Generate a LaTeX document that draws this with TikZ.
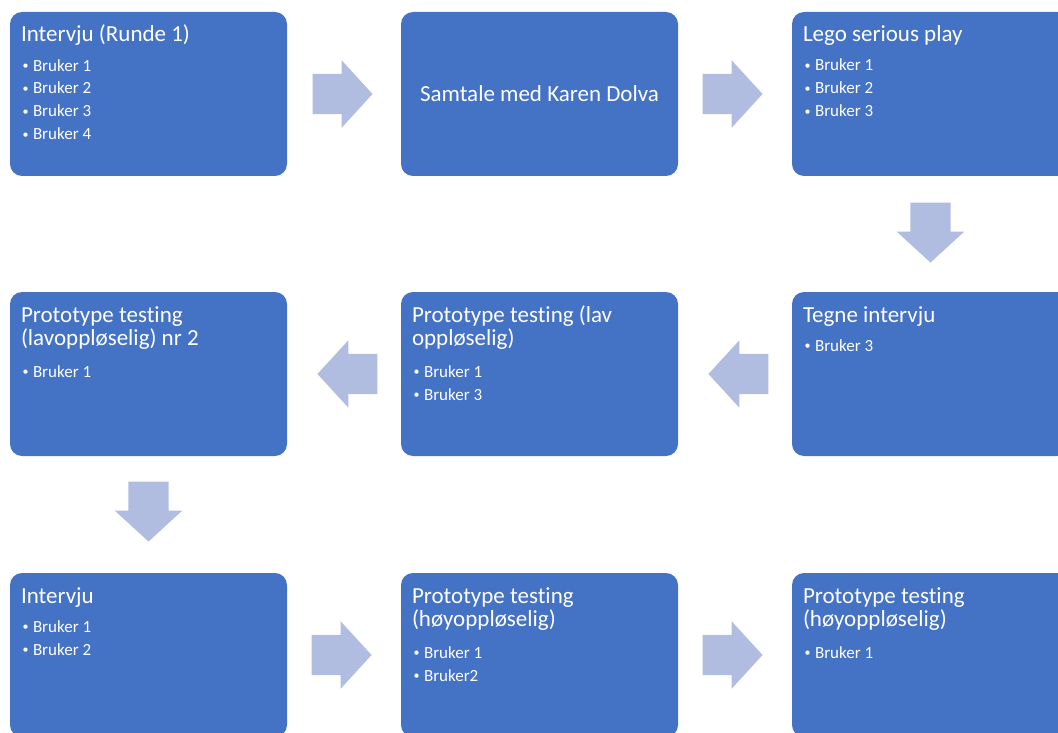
\documentclass[tikz,border=0pt]{standalone}
\usepackage{fontspec}
\setmainfont{Carlito}[Ligatures=NoCommon]
\usetikzlibrary{shapes.arrows,calc}
\definecolor{boxblue}{HTML}{4472C4}
\definecolor{arrowblue}{HTML}{B0BCE0}
\newcommand{\boxtitle}[1]{{\fontsize{23}{24}\selectfont\rule{0pt}{18pt}#1}}
\newcommand{\bulletitem}{\hspace*{1.5pt}\makebox[10.5pt][l]{\raisebox{1.2pt}{\fontsize{12}{12}\selectfont •}}}

\begin{document}
\begin{tikzpicture}[x=1pt, y=-1pt,
  stepbox/.style={fill=boxblue, rounded corners=12pt, minimum width=277pt,
                  minimum height=164pt, inner sep=0pt},
  boxtext/.style={anchor=north west, align=left, text=white, inner sep=0pt,
                  font=\fontsize{17}{23}\selectfont},
  flow/.style={single arrow, fill=arrowblue, minimum height=60pt, anchor=tip,
               inner xsep=0pt, inner ysep=20pt, single arrow head extend=13.5pt,
               single arrow head indent=0pt, single arrow tip angle=95},
]
\useasboundingbox (0,0) rectangle (1058,733);
\clip (0,0) rectangle (1058,733);

% ---- Row 1 ----
\node[stepbox] (r1a) at (148.5,94) {};
\node[stepbox] (r1b) at (539.5,94) {};
\node[stepbox] (r1c) at (930.5,94) {};

\node[boxtext] (r1aText) at ([xshift=11pt,yshift=-12pt]r1a.north west)
  {\boxtitle{Intervju (Runde 1)}\\[6pt]
   \bulletitem Bruker 1\\ \bulletitem Bruker 2\\ \bulletitem Bruker 3\\ \bulletitem Bruker 4};
\node[text=white, font=\fontsize{23}{24}\selectfont] (r1bText) at (r1b.center)
  {Samtale med Karen Dolva};
\node[boxtext] (r1cText) at ([xshift=11pt,yshift=-12pt]r1c.north west)
  {\boxtitle{Lego serious play}\\[6pt]
   \bulletitem Bruker 1\\ \bulletitem Bruker 2\\ \bulletitem Bruker 3};

% ---- Row 2 ----
\node[stepbox] (r2a) at (148.5,374) {};
\node[stepbox] (r2b) at (539.5,374) {};
\node[stepbox] (r2c) at (930.5,374) {};

\node[boxtext] (r2aText) at ([xshift=11pt,yshift=-12pt]r2a.north west)
  {\boxtitle{Prototype testing}\\ \boxtitle{(lavoppløselig) nr 2}\\[9pt]
   \bulletitem Bruker 1};
\node[boxtext] (r2bText) at ([xshift=11pt,yshift=-12pt]r2b.north west)
  {\boxtitle{Prototype testing (lav}\\ \boxtitle{oppløselig)}\\[9pt]
   \bulletitem Bruker 1\\ \bulletitem Bruker 3};
\node[boxtext] (r2cText) at ([xshift=11pt,yshift=-12pt]r2c.north west)
  {\boxtitle{Tegne intervju}\\[6pt]
   \bulletitem Bruker 3};

% ---- Row 3 ----
\node[stepbox] (r3a) at (148.5,655) {};
\node[stepbox] (r3b) at (539.5,655) {};
\node[stepbox] (r3c) at (930.5,655) {};

\node[boxtext] (r3aText) at ([xshift=11pt,yshift=-12pt]r3a.north west)
  {\boxtitle{Intervju}\\[6pt]
   \bulletitem Bruker 1\\ \bulletitem Bruker 2};
\node[boxtext] (r3bText) at ([xshift=11pt,yshift=-12pt]r3b.north west)
  {\boxtitle{Prototype testing}\\ \boxtitle{(høyoppløselig)}\\[9pt]
   \bulletitem Bruker 1\\ \bulletitem Bruker2};
\node[boxtext] (r3cText) at ([xshift=11pt,yshift=-12pt]r3c.north west)
  {\boxtitle{Prototype testing}\\ \boxtitle{(høyoppløselig)}\\[9pt]
   \bulletitem Bruker 1};

% ---- Flow arrows ----
\node[flow] (f1) at ([xshift=-28pt]r1b.west) {};
\node[flow] (f2) at ([xshift=-29pt]r1c.west) {};
\node[flow, rotate=-90] (f3) at ([yshift=29pt]r2c.north) {};
\node[flow, rotate=180] (f4) at ([xshift=30pt]r2b.east) {};
\node[flow, rotate=180] (f5) at ([xshift=30pt]r2a.east) {};
\node[flow, rotate=-90] (f6) at ([yshift=31pt]r3a.north) {};
\node[flow] (f7) at ([xshift=-29pt]r3b.west) {};
\node[flow] (f8) at ([xshift=-29pt]r3c.west) {};

\end{tikzpicture}
\end{document}
